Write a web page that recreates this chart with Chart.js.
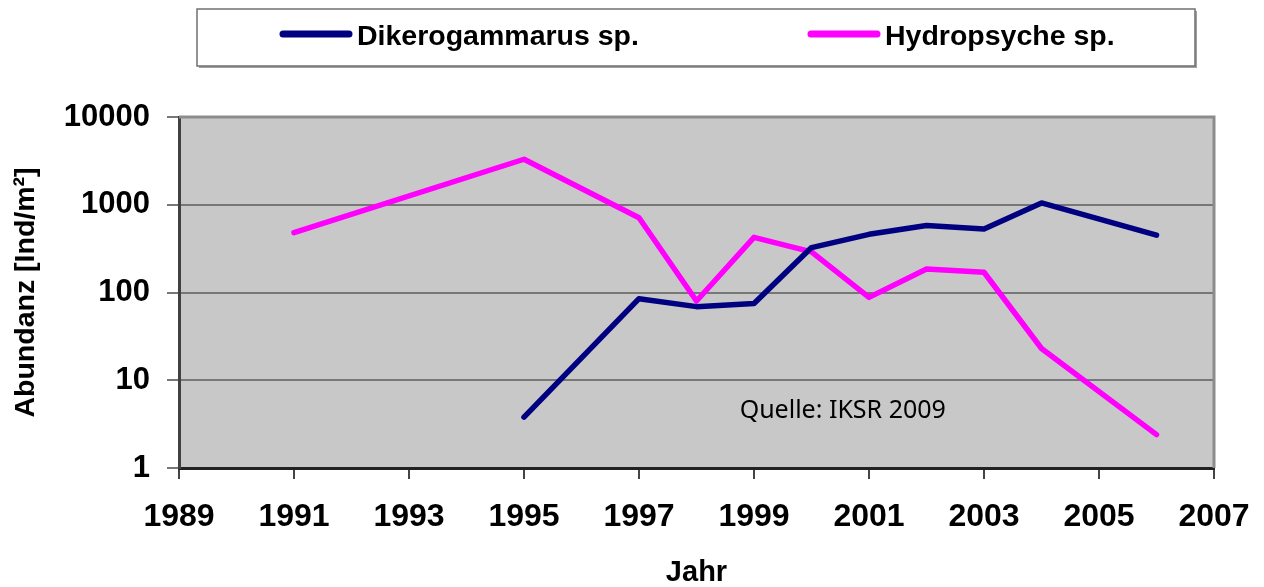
<!DOCTYPE html>
<html>
<head>
<meta charset="utf-8">
<script src="https://cdn.jsdelivr.net/npm/chart.js@4.4.0/dist/chart.umd.min.js"></script>
<style>
  html, body { margin: 0; padding: 0; background: #fff; }
</style>
</head>
<body>
<canvas id="chart" width="1264" height="587"></canvas>
<script>
// data (log scale)
const years = [1991, 1995, 1997, 1998, 1999, 2000, 2001, 2002, 2003, 2004, 2006];
const dikerogammarus = [null, 3.8, 85, 69, 75, 325, 460, 580, 530, 1050, 450];
const hydropsyche = [480, 3300, 710, 80, 425, 290, 88, 185, 170, 23, 2.4];
const seriesNames = ['Dikerogammarus sp.', 'Hydropsyche sp.'];
const seriesColors = ['#000080', '#FF00FF'];
const xTicks = [1989, 1991, 1993, 1995, 1997, 1999, 2001, 2003, 2005, 2007];
const yTicks = [1, 10, 100, 1000, 10000];
const sourceNote = 'Quelle: IKSR 2009';

const ARIAL = '"Liberation Sans", Arial, sans-serif';

function points(values) {
  return years.map((x, i) => ({ x: x, y: values[i] }));
}

// gray plot area + top/right frame
const plotFrame = {
  id: 'plotFrame',
  beforeDraw(chart) {
    const { ctx, chartArea: a } = chart;
    ctx.save();
    ctx.fillStyle = '#C8C8C8';
    ctx.fillRect(a.left, a.top, a.right - a.left, a.bottom - a.top);
    ctx.restore();
  },
  afterDatasetsDraw(chart) {
    const { ctx, chartArea: a } = chart;
    ctx.save();
    ctx.strokeStyle = '#8C8C8C';
    ctx.lineWidth = 3;
    ctx.beginPath();
    ctx.moveTo(a.left, a.top);
    ctx.lineTo(a.right, a.top);
    ctx.lineTo(a.right, a.bottom);
    ctx.stroke();

    // source note, placed with the scales
    const xs = chart.scales.x, ys = chart.scales.y;
    ctx.fillStyle = '#000';
    ctx.font = '25px "Noto Sans", "Open Sans", sans-serif';
    ctx.textBaseline = 'alphabetic';
    ctx.fillText(sourceNote, xs.getPixelForValue(1998.75), ys.getPixelForValue(3.75));
    ctx.restore();
  }
};

// framed legend like the original
const boxLegend = {
  id: 'boxLegend',
  afterDraw(chart) {
    const ctx = chart.ctx;
    const box = { left: 197, top: 9, right: 1195, bottom: 66 };
    const itemX = [280, 808];
    ctx.save();
    ctx.fillStyle = '#A0A0A0';
    ctx.fillRect(box.left + 2, box.top + 2, box.right - box.left, box.bottom - box.top);
    ctx.fillStyle = '#fff';
    ctx.fillRect(box.left, box.top, box.right - box.left, box.bottom - box.top);
    ctx.strokeStyle = '#707070';
    ctx.lineWidth = 1.5;
    ctx.strokeRect(box.left, box.top, box.right - box.left, box.bottom - box.top);

    chart.data.datasets.forEach((ds, i) => {
      const x = itemX[i];
      ctx.strokeStyle = ds.borderColor;
      ctx.lineWidth = 7;
      ctx.lineCap = 'round';
      ctx.beginPath();
      ctx.moveTo(x + 3, 34);
      ctx.lineTo(x + 69, 34);
      ctx.stroke();
      ctx.fillStyle = '#000';
      ctx.font = 'bold 28.5px ' + ARIAL;
      ctx.textBaseline = 'middle';
      ctx.fillText(ds.label, x + 77, 37);
    });
    ctx.restore();
  }
};

const ctx = document.getElementById('chart').getContext('2d');
new Chart(ctx, {
  type: 'line',
  data: {
    datasets: [
      { label: seriesNames[0], data: points(dikerogammarus), borderColor: seriesColors[0] },
      { label: seriesNames[1], data: points(hydropsyche), borderColor: seriesColors[1] }
    ]
  },
  options: {
    responsive: false,
    animation: false,
    devicePixelRatio: 1,
    layout: { padding: { top: 117, left: 0, right: 50, bottom: 0 } },
    elements: {
      line: { borderWidth: 5.5, tension: 0, borderJoinStyle: 'round', borderCapStyle: 'round', fill: false },
      point: { radius: 0, hoverRadius: 0 }
    },
    plugins: {
      legend: { display: false },
      tooltip: { enabled: false }
    },
    scales: {
      x: {
        type: 'linear',
        min: 1989,
        max: 2007,
        afterBuildTicks: s => { s.ticks = xTicks.map(v => ({ value: v })); },
        afterFit: s => { s.height = 119; s.paddingLeft = 30; s.paddingRight = 30; },
        ticks: {
          callback: v => String(v),
          font: { family: ARIAL, size: 32, weight: 'bold' },
          color: '#000',
          padding: 19,
          maxRotation: 0,
          autoSkip: false
        },
        grid: { drawOnChartArea: false, tickLength: 11, tickColor: '#444', lineWidth: 2 },
        border: { color: '#222', width: 3 },
        title: {
          display: true,
          text: 'Jahr',
          font: { family: ARIAL, size: 29, weight: 'bold', lineHeight: 1 },
          color: '#000',
          padding: { top: 0, bottom: 0 }
        }
      },
      y: {
        type: 'logarithmic',
        min: 1,
        max: 10000,
        afterBuildTicks: s => { s.ticks = yTicks.map(v => ({ value: v })); },
        afterFit: s => { s.width = 179; },
        ticks: {
          callback: v => String(v),
          font: { family: ARIAL, size: 31, weight: 'bold' },
          color: '#000',
          padding: 17
        },
        grid: { color: '#777', lineWidth: 2, tickLength: 12, tickColor: '#777' },
        border: { color: '#404040', width: 3 },
        title: {
          display: true,
          text: 'Abundanz [Ind/m²]',
          font: { family: ARIAL, size: 28.5, weight: 'bold' },
          color: '#000',
          padding: { top: 9, bottom: 0 }
        }
      }
    }
  },
  plugins: [plotFrame, boxLegend]
});
</script>
</body>
</html>
